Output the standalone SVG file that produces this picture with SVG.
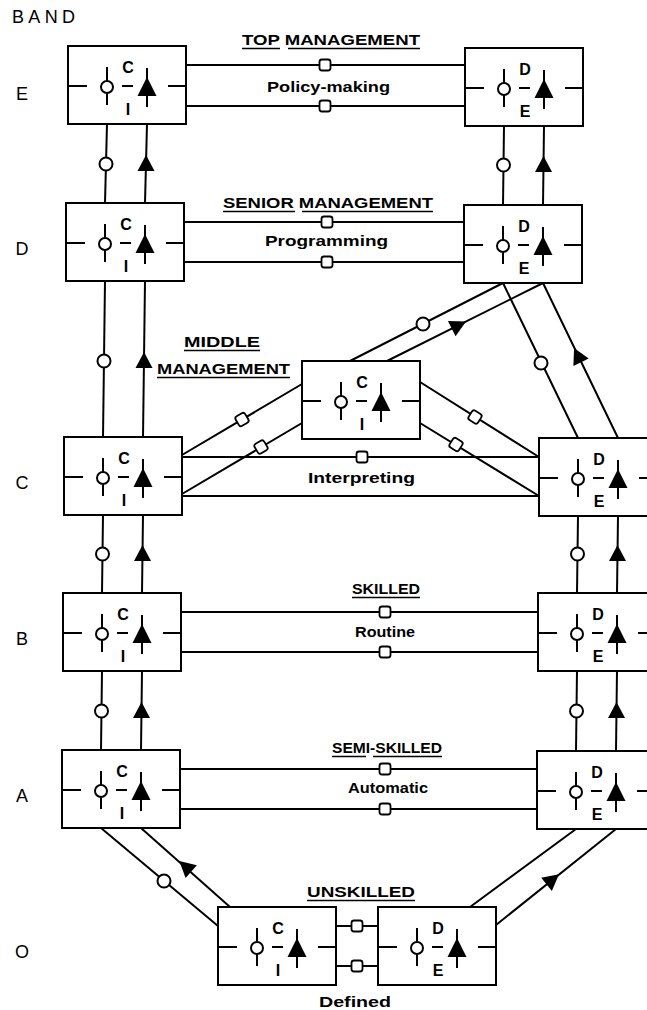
<svg xmlns="http://www.w3.org/2000/svg" xmlns:xlink="http://www.w3.org/1999/xlink" width="647" height="1010" viewBox="0 0 647 1010">
<style>
.ln{stroke:#000;stroke-width:2;fill:none}
.ul{stroke:#000;stroke-width:1.6;fill:none}
.lbl{font-family:"Liberation Sans",Arial,sans-serif;font-weight:bold;font-size:14px;fill:#000}
.hd{font-family:"Liberation Sans",Arial,sans-serif;font-weight:bold;font-size:15px;fill:#000}
.band{font-family:"Liberation Sans",Arial,sans-serif;font-size:18px;fill:#000}
.ltr{font-family:"Liberation Sans",Arial,sans-serif;font-weight:bold;font-size:16px;text-anchor:middle;fill:#000}
</style>
<defs>
<g id="box">
<rect x="0" y="0" width="118" height="78" fill="#fff" stroke="#000" stroke-width="2"/>
<path d="M0,40H19M54,40H65M100,40H118M39,21V59M79,22V61" stroke="#000" stroke-width="2" fill="none"/>
<circle cx="39" cy="41" r="6" fill="#fff" stroke="#000" stroke-width="2"/>
<path d="M79,31L88.5,50L69.5,50Z" fill="#000"/>
</g>
<circle id="cm" r="6.5" fill="#fff" stroke="#000" stroke-width="2"/>
<path id="am" d="M0,-9L8.5,7L-8.5,7Z" fill="#000"/>
<rect id="sm" x="-5.5" y="-5.5" width="11" height="11" rx="2.5" fill="#fff" stroke="#000" stroke-width="1.8"/>
</defs>
<rect width="647" height="1010" fill="#fff"/>

<g id="connectors">
<path class="ln" d="M107,124L105,203M147,124L145,203M105,281L103,437M145,281L143,437M103,515L102,593M143,515L142,593M102,671L101,750M142,671L141,750"/>
<path class="ln" d="M504,126L503,205M544,126L543,205M578,516L577,593M618,516L617,593M577,671L576,751M617,671L616,751"/>
<path class="ln" d="M503,283L350,361M543,283L387,361M503,283L578,438M543,283L618,438"/>
<path class="ln" d="M182,455L302,384M182,494L302,423M420,382L539,457M420,423L539,496"/>
<path class="ln" d="M101,828L218,926M141,828L230,907M576,829L470,907M616,829L496,925"/>
<path class="ln" d="M186,65H465M186,106H465M184,222H464M184,262H464M182,457H539M182,496H539M181,612H538M181,652H538M180,769H537M180,809H537M336,926H378M336,966H378"/>
<use xlink:href="#cm" x="106" y="164"/><use xlink:href="#am" x="146" y="164"/>
<use xlink:href="#cm" x="104" y="361"/><use xlink:href="#am" x="144" y="361"/>
<use xlink:href="#cm" x="102.5" y="554"/><use xlink:href="#am" x="142.5" y="554"/>
<use xlink:href="#cm" x="101.5" y="711"/><use xlink:href="#am" x="141.5" y="711"/>
<use xlink:href="#cm" x="503.5" y="165"/><use xlink:href="#am" x="543.5" y="165"/>
<use xlink:href="#cm" x="577.5" y="554"/><use xlink:href="#am" x="617.5" y="554"/>
<use xlink:href="#cm" x="576.5" y="711"/><use xlink:href="#am" x="616.5" y="711"/>
<use xlink:href="#cm" x="423" y="324"/>
<use xlink:href="#am" transform="translate(458,325.5) rotate(63.4)"/>
<use xlink:href="#cm" x="541" y="363"/>
<use xlink:href="#am" transform="translate(578,356) rotate(-25.8)"/>
<use xlink:href="#cm" x="164" y="881"/>
<use xlink:href="#am" transform="translate(186,867) rotate(-48.4)"/>
<use xlink:href="#am" transform="translate(552,880) rotate(51.3)"/>
<use xlink:href="#sm" x="325" y="65"/><use xlink:href="#sm" x="325" y="106"/>
<use xlink:href="#sm" x="327" y="222"/><use xlink:href="#sm" x="327" y="262"/>
<use xlink:href="#sm" x="362" y="457"/>
<use xlink:href="#sm" transform="translate(242,419.5) rotate(-30.6)"/>
<use xlink:href="#sm" transform="translate(261,447) rotate(-30.6)"/>
<use xlink:href="#sm" transform="translate(475,417) rotate(32)"/>
<use xlink:href="#sm" transform="translate(456,444.5) rotate(32)"/>
<use xlink:href="#sm" x="385" y="612"/><use xlink:href="#sm" x="385" y="652"/>
<use xlink:href="#sm" x="385" y="769"/><use xlink:href="#sm" x="385" y="809"/>
<use xlink:href="#sm" x="357" y="926"/><use xlink:href="#sm" x="357" y="966"/>
</g>

<g id="labels">
<text class="band" x="12" y="23" textLength="63">BAND</text>
<text class="band" x="22" y="100" text-anchor="middle">E</text>
<text class="band" x="22" y="255" text-anchor="middle">D</text>
<text class="band" x="22" y="489" text-anchor="middle">C</text>
<text class="band" x="22" y="645" text-anchor="middle">B</text>
<text class="band" x="22" y="802" text-anchor="middle">A</text>
<text class="band" x="22" y="958" text-anchor="middle">O</text>

<text class="hd" x="242" y="45" textLength="178" lengthAdjust="spacingAndGlyphs">TOP MANAGEMENT</text>
<path class="ul" d="M242,48.5H280M288,48.5H420"/>
<text class="lbl" x="267" y="92" textLength="123" lengthAdjust="spacingAndGlyphs">Policy-making</text>
<text class="hd" x="223" y="208" textLength="210" lengthAdjust="spacingAndGlyphs">SENIOR MANAGEMENT</text>
<path class="ul" d="M223,211.5H295M302,211.5H433"/>
<text class="lbl" x="265" y="246" textLength="123" lengthAdjust="spacingAndGlyphs">Programming</text>
<text class="hd" x="184" y="347" textLength="76" lengthAdjust="spacingAndGlyphs">MIDDLE</text>
<path class="ul" d="M184,350.5H260"/>
<text class="hd" x="157" y="374" textLength="133" lengthAdjust="spacingAndGlyphs">MANAGEMENT</text>
<path class="ul" d="M157,377.5H290"/>
<text class="lbl" x="308" y="483" textLength="107" lengthAdjust="spacingAndGlyphs">Interpreting</text>
<text class="hd" x="352" y="594" textLength="68" lengthAdjust="spacingAndGlyphs">SKILLED</text>
<path class="ul" d="M352,597.5H420"/>
<text class="lbl" x="355" y="637" textLength="60" lengthAdjust="spacingAndGlyphs">Routine</text>
<text class="hd" x="332" y="753" textLength="110" lengthAdjust="spacingAndGlyphs">SEMI-SKILLED</text>
<path class="ul" d="M332,756.5H366M373,756.5H442"/>
<text class="lbl" x="348" y="793" textLength="80" lengthAdjust="spacingAndGlyphs">Automatic</text>
<text class="hd" x="307" y="897" textLength="108" lengthAdjust="spacingAndGlyphs">UNSKILLED</text>
<path class="ul" d="M307,900.5H415"/>
<text class="lbl" x="319" y="1007" textLength="72" lengthAdjust="spacingAndGlyphs">Defined</text>
</g>

<g id="node-E-left" transform="translate(68,46)"><use xlink:href="#box"/><text class="ltr" x="60" y="27">C</text><text class="ltr" x="60" y="69">I</text></g>
<g id="node-D-left" transform="translate(66,203)"><use xlink:href="#box"/><text class="ltr" x="60" y="27">C</text><text class="ltr" x="60" y="69">I</text></g>
<g id="node-C-left" transform="translate(64,437)"><use xlink:href="#box"/><text class="ltr" x="60" y="27">C</text><text class="ltr" x="60" y="69">I</text></g>
<g id="node-B-left" transform="translate(63,593)"><use xlink:href="#box"/><text class="ltr" x="60" y="27">C</text><text class="ltr" x="60" y="69">I</text></g>
<g id="node-A-left" transform="translate(62,750)"><use xlink:href="#box"/><text class="ltr" x="60" y="27">C</text><text class="ltr" x="60" y="69">I</text></g>
<g id="node-middle" transform="translate(302,361)"><use xlink:href="#box"/><text class="ltr" x="60" y="27">C</text><text class="ltr" x="60" y="69">I</text></g>
<g id="node-O-left" transform="translate(218,907)"><use xlink:href="#box"/><text class="ltr" x="60" y="27">C</text><text class="ltr" x="60" y="69">I</text></g>
<g id="node-O-right" transform="translate(378,907)"><use xlink:href="#box"/><text class="ltr" x="60" y="27">D</text><text class="ltr" x="60" y="69">E</text></g>
<g id="node-E-right" transform="translate(465,48)"><use xlink:href="#box"/><text class="ltr" x="60" y="27">D</text><text class="ltr" x="60" y="69">E</text></g>
<g id="node-D-right" transform="translate(464,205)"><use xlink:href="#box"/><text class="ltr" x="60" y="27">D</text><text class="ltr" x="60" y="69">E</text></g>
<g id="node-C-right" transform="translate(539,438)"><use xlink:href="#box"/><text class="ltr" x="60" y="27">D</text><text class="ltr" x="60" y="69">E</text></g>
<g id="node-B-right" transform="translate(538,593)"><use xlink:href="#box"/><text class="ltr" x="60" y="27">D</text><text class="ltr" x="60" y="69">E</text></g>
<g id="node-A-right" transform="translate(537,751)"><use xlink:href="#box"/><text class="ltr" x="60" y="27">D</text><text class="ltr" x="60" y="69">E</text></g>
</svg>
